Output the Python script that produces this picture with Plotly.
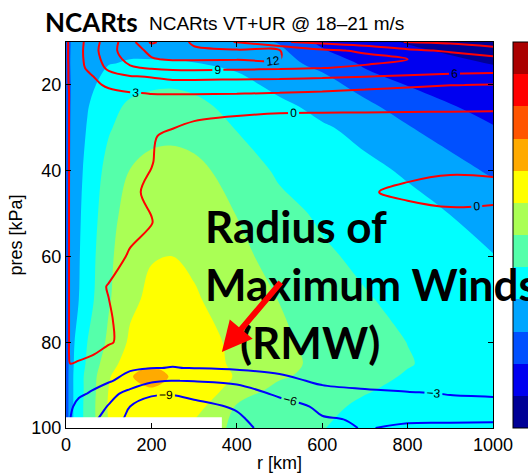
import plotly.graph_objects as go

# ---------------- data ----------------
# filled field (tangential wind, m/s): radius [km] x pressure [kPa]
r_vt = [0, 20, 50, 100, 150, 200, 250, 300, 400, 500, 600, 700, 800, 1000]
p_vt = [10, 15, 20, 25, 30, 40, 50, 60, 70, 80, 85, 88, 91, 95, 100]
vt_p10 = [-1, 0.8, 1.2, 1.5, 1.6, 1.6, 1.5, 1.2, 0.6, -0.1, -2.5, -3.5, -4.1, -5.5]
vt_p15 = [-1, 1.0, 1.5, 1.95, 2.1, 2.1, 2.1, 2.05, 1.6, 0.8, -0.7, -2.3, -3.2, -4.05]
vt_p20 = [-1, 0.8, 1.6, 2.6, 3.3, 3.7, 3.8, 3.6, 2.6, 1.5, 1.0, -1.0, -2.05, -3.3]
vt_p25 = [-1, 0.9, 1.9, 3.3, 4.4, 4.8, 4.9, 4.5, 3.4, 2.4, 1.5, 0.6, -1.2, -2.6]
vt_p30 = [-1, 1.0, 2.1, 3.8, 4.9, 5.4, 5.5, 5.1, 3.9, 3.0, 2.2, 1.5, 0.15, -1.9]
vt_p40 = [-1, 1.1, 2.5, 4.7, 6.05, 6.6, 6.7, 6.6, 5.1, 3.7, 3.0, 2.4, 1.8, -0.3]
vt_p50 = [-1, 1.2, 2.8, 5.2, 6.9, 7.5, 7.7, 7.3, 5.95, 4.6, 3.7, 3.1, 2.55, 1.4]
vt_p60 = [-1, 1.3, 3.0, 5.6, 7.3, 7.9, 8.0, 7.7, 6.5, 5.3, 4.3, 3.6, 3.0, 2.05]
vt_p70 = [-1, 1.4, 3.2, 5.8, 7.6, 8.4, 8.6, 8.2, 7.1, 5.95, 4.9, 4.15, 3.5, 2.4]
vt_p80 = [-1, 2.0, 4.0, 6.4, 8.3, 9.2, 9.4, 9.0, 7.5, 6.4, 5.3, 4.6, 3.98, 2.8]
vt_p85 = [-1, 2.3, 4.3, 7.2, 9.0, 9.8, 9.7, 9.2, 7.6, 6.6, 5.5, 4.7, 4.1, 2.9]
vt_p88 = [-1, 2.5, 4.6, 7.8, 9.9, 10.6, 9.85, 9.3, 7.85, 6.3, 5.2, 4.5, 3.85, 2.9]
vt_p91 = [-1, 2.5, 4.6, 8.05, 9.6, 9.9, 9.7, 9.1, 7.4, 5.3, 4.8, 4.15, 3.6, 2.8]
vt_p95 = [-1, 2.5, 4.7, 8.2, 9.5, 9.6, 9.3, 8.8, 5.8, 5.0, 4.4, 3.7, 3.3, 2.7]
vt_p100 = [-1, 2.5, 4.7, 8.0, 9.0, 9.0, 8.5, 7.5, 5.5, 4.7, 4.05, 3.5, 3.2, 2.6]

# line field (radial wind, m/s)
r_ur = [0, 10, 30, 60, 100, 150, 200, 250, 300, 400, 500, 600, 700, 800, 900, 1000]
p_ur = [10, 12, 14, 16, 18, 20, 22, 25, 28, 32, 38, 45, 52, 60, 67, 75, 80, 83, 86, 89, 92, 95, 98, 100]
ur_p10 = [-0.5, 0.5, 2.0, 4.6, 7.5, 10.8, 15.5, 13.5, 11.5, 8.8, 6.3, 5.2, 4.0, 2.9, 2.4, 1.8]
ur_p12 = [-0.5, 0.5, 2.1, 4.8, 7.8, 10.8, 12.6, 12.8, 12.5, 12.4, 12.1, 9.5, 8.6, 6.6, 5.6, 4.0]
ur_p14 = [-0.5, 0.5, 2.1, 4.6, 7.3, 10.0, 11.8, 12.3, 12.3, 12.2, 12.05, 10.5, 9.8, 9.0, 7.8, 7.0]
ur_p16 = [-0.5, 0.4, 2.0, 4.1, 6.6, 8.6, 9.4, 9.7, 9.8, 9.6, 9.4, 9.1, 8.6, 8.0, 7.5, 7.2]
ur_p18 = [-0.5, 0.4, 1.6, 2.8, 5.0, 5.9, 6.2, 7.0, 7.0, 6.9, 6.8, 6.5, 6.1, 5.7, 5.4, 5.2]
ur_p20 = [-0.5, 0.3, 1.4, 2.4, 3.4, 4.2, 4.6, 4.6, 4.6, 4.4, 4.2, 4.0, 3.6, 3.3, 3.05, 2.9]
ur_p22 = [-0.5, 0.2, 1.1, 1.9, 2.4, 2.8, 3.05, 3.1, 3.1, 3.05, 2.9, 2.7, 2.5, 2.3, 2.1, 1.9]
ur_p25 = [-0.5, 0.2, 1.0, 1.6, 2.0, 2.0, 1.8, 1.5, 1.2, 0.9, 0.6, 0.5, 0.45, 0.4, 0.35, 0.3]
ur_p28 = [-0.5, 0.2, 0.8, 1.2, 1.3, 1.2, 0.9, 0.5, 0.1, -0.3, -0.5, -0.5, -0.5, -0.5, -0.5, -0.5]
ur_p32 = [-0.5, 0.2, 0.7, 0.9, 0.9, 0.6, 0.15, -0.4, -0.8, -0.9, -1.0, -1.0, -1.0, -1.0, -1.0, -1.0]
ur_p38 = [-0.5, 0.2, 0.7, 0.8, 0.7, 0.4, 0.05, -0.5, -0.9, -1.1, -1.1, -0.9, -0.6, -0.4, -0.3, -0.3]
ur_p45 = [-0.5, 0.2, 0.7, 0.8, 0.6, 0.2, -0.2, -0.6, -1.0, -1.1, -1.0, -0.5, -0.1, 0.2, 0.4, 0.3]
ur_p52 = [-0.5, 0.2, 0.7, 0.8, 0.6, 0.3, 0.05, -0.5, -1.0, -1.2, -1.2, -1.0, -0.8, -0.5, -0.4, -0.4]
ur_p60 = [-0.5, 0.2, 0.6, 0.5, 0.4, -0.1, -0.7, -1.0, -1.3, -1.4, -1.4, -1.3, -1.2, -1.1, -1.0, -1.0]
ur_p67 = [-0.5, 0.2, 0.5, 0.3, -0.05, -0.5, -0.9, -1.2, -1.5, -1.6, -1.6, -1.5, -1.4, -1.3, -1.2, -1.2]
ur_p75 = [-0.5, 0.2, 0.4, 0.3, 0.1, -0.4, -0.9, -1.3, -1.6, -1.8, -1.9, -1.8, -1.7, -1.6, -1.5, -1.5]
ur_p80 = [-0.5, 0.2, 0.4, 0.3, 0.15, -0.5, -1.2, -1.7, -2.0, -2.2, -2.3, -2.3, -2.2, -2.1, -2.0, -2.0]
ur_p83 = [-0.5, 0.2, 0.3, 0.05, -0.6, -1.6, -2.2, -2.5, -2.5, -2.4, -2.3, -2.2, -2.1, -2.0, -1.9, -1.8]
ur_p86 = [-0.5, -0.1, -0.4, -0.9, -1.8, -2.6, -2.95, -3.05, -2.95, -2.6, -2.3, -2.1, -1.9, -1.8, -1.7, -1.6]
ur_p89 = [-0.5, -0.8, -1.5, -2.0, -2.7, -4.2, -5.6, -6.05, -5.9, -5.4, -3.8, -2.5, -2.3, -2.2, -2.1, -2.0]
ur_p92 = [-0.5, -1.5, -2.5, -3.3, -5.0, -7.0, -8.6, -8.8, -8.3, -7.5, -5.5, -4.0, -3.4, -3.15, -2.95, -2.9]
ur_p95 = [-0.5, -2.5, -4.0, -4.5, -6.2, -9.0, -10.5, -10.5, -9.8, -8.7, -7.2, -5.5, -4.0, -3.6, -3.4, -3.3]
ur_p98 = [-0.5, -3.0, -4.5, -5.5, -7.0, -10.0, -11.0, -11.0, -10.5, -9.5, -7.2, -6.2, -5.8, -5.75, -5.75, -5.8]
ur_p100 = [-0.5, -3.2, -5.0, -6.5, -8.5, -11.0, -11.5, -11.5, -11.0, -10.0, -7.5, -6.5, -5.9, -6.3, -6.4, -6.4]

# region without data near the surface
missing_r_edges = [0, 365]
missing_p_edges = [97.5, 100]

x_ticks = [0, 200, 400, 600, 800, 1000]
y_ticks = [20, 40, 60, 80, 100]

# ---------------- figure ----------------
vt = [vt_p10, vt_p15, vt_p20, vt_p25, vt_p30, vt_p40, vt_p50, vt_p60, vt_p70,
      vt_p80, vt_p85, vt_p88, vt_p91, vt_p95, vt_p100]
ur = [ur_p10, ur_p12, ur_p14, ur_p16, ur_p18, ur_p20, ur_p22, ur_p25, ur_p28,
      ur_p32, ur_p38, ur_p45, ur_p52, ur_p60, ur_p67, ur_p75, ur_p80, ur_p83,
      ur_p86, ur_p89, ur_p92, ur_p95, ur_p98, ur_p100]

band_colors = ["#000096", "#0000f0", "#0050ff", "#00a5ff", "#00ffff", "#55ffaa",
               "#aaff55", "#ffff00", "#ffaa00", "#ff5500", "#ff0000", "#aa0000"]
n = len(band_colors)
cscale = []
for i, c in enumerate(band_colors):
    cscale.append([i / n, c])
    cscale.append([(i + 1) / n, c])

fig = go.Figure()
fig.add_trace(go.Contour(
    x=r_vt, y=p_vt, z=vt, zmin=-6, zmax=18, zauto=False, colorscale=cscale,
    contours=dict(start=-4, end=16, size=2, coloring="fill", showlines=False),
    line=dict(width=0, smoothing=1.0),
    colorbar=dict(x=1.047, xanchor="left", xpad=0, y=0.5, yanchor="middle", ypad=0,
                  len=1, lenmode="fraction", thickness=20, thicknessmode="pixels",
                  outlinewidth=1, outlinecolor="black", showticklabels=False, ticks=""),
    hoverinfo="skip",
))
fig.add_trace(go.Contour(
    x=r_ur, y=p_ur, z=ur,
    contours=dict(start=0, end=15, size=3, coloring="none", showlabels=True,
                  labelfont=dict(family="Liberation Sans", size=12, color="black")),
    line=dict(color="#ff0000", width=2, smoothing=1.0), showscale=False, hoverinfo="skip",
))
fig.add_trace(go.Contour(
    x=r_ur, y=p_ur, z=ur,
    contours=dict(start=-9, end=-3, size=3, coloring="none", showlabels=True,
                  labelfont=dict(family="Liberation Sans", size=12, color="black")),
    line=dict(color="#0000ff", width=2, smoothing=1.0), showscale=False, hoverinfo="skip",
))
# blank out the no-data strip (drawn above the contour layers)
r0, r1 = missing_r_edges
p0, p1 = missing_p_edges
fig.add_trace(go.Scatter(
    x=[r0, r1, r1, r0, r0], y=[p0, p0, p1, p1, p0], mode="lines", fill="toself",
    fillcolor="white", line=dict(width=0, color="white"), hoverinfo="skip",
    showlegend=False,
))

axis_font = dict(family="Liberation Sans", size=18, color="black")
fig.update_xaxes(range=[0, 1000], tickvals=x_ticks, ticks="inside", ticklen=5,
                 tickcolor="black", mirror="allticks", showline=True, linecolor="black",
                 linewidth=1, showgrid=False, zeroline=False, tickfont=axis_font,
                 title=dict(text="r [km]", font=axis_font, standoff=2))
fig.update_yaxes(range=[100, 10], tickvals=y_ticks, ticks="inside", ticklen=5,
                 tickcolor="black", mirror="allticks", showline=True, linecolor="black",
                 linewidth=1, showgrid=False, zeroline=False, tickfont=axis_font,
                 title=dict(text="pres [kPa]", font=axis_font, standoff=4))

big = dict(family="Lato", size=44, color="black")
fig.add_annotation(xref="paper", yref="paper", x=-0.054, y=1.052, xanchor="left",
                   yanchor="middle", text="<b>NCARts</b>", showarrow=False,
                   font=dict(family="Lato", size=26, color="black"))
fig.add_annotation(xref="paper", yref="paper", x=0.19, y=1.047, xanchor="left",
                   yanchor="middle", text="NCARts VT+UR @ 18\u201321 m/s", showarrow=False,
                   font=dict(family="Liberation Sans", size=19, color="black"))
fig.add_annotation(xref="x", yref="y", x=320, y=52.9, xanchor="left", align="left",
                   yanchor="middle", text="<b>Radius of</b>", showarrow=False, font=big)
fig.add_annotation(xref="x", yref="y", x=320, y=66.4, xanchor="left", align="left",
                   yanchor="middle", text="<b>Maximum Winds</b>", showarrow=False, font=big)
fig.add_annotation(xref="x", yref="y", x=403, y=79.9, xanchor="left", align="left",
                   yanchor="middle", text="<b>(RMW)</b>", showarrow=False, font=big)
fig.add_annotation(xref="x", yref="y", x=365, y=82.3, axref="x", ayref="y",
                   ax=506, ay=65.7, text="", showarrow=True, arrowhead=2, arrowsize=1,
                   arrowwidth=6, arrowcolor="#ff0000", standoff=0, startstandoff=0)

fig.update_layout(width=528, height=476, paper_bgcolor="white", plot_bgcolor="white",
                  margin=dict(l=66, r=35, t=42, b=48, autoexpand=False),
                  showlegend=False)
fig.write_html("out.html")
